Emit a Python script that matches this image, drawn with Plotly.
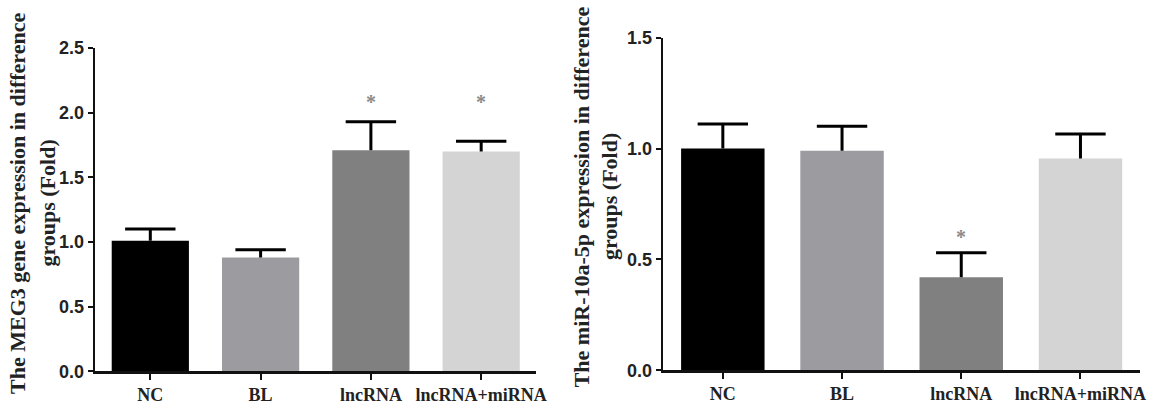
import plotly.graph_objects as go

categories = ["NC", "BL", "lncRNA", "lncRNA+miRNA"]

meg3_values = [1.01, 0.88, 1.71, 1.70]
meg3_errors = [0.09, 0.06, 0.22, 0.08]
meg3_stars = ["", "", "*", "*"]
meg3_star_y = [None, None, 2.08, 2.08]
meg3_ticks = [0.0, 0.5, 1.0, 1.5, 2.0, 2.5]

mir_values = [1.00, 0.99, 0.42, 0.955]
mir_errors = [0.11, 0.11, 0.11, 0.11]
mir_stars = ["", "", "*", ""]
mir_star_y = [None, None, 0.60, None]
mir_ticks = [0.0, 0.5, 1.0, 1.5]

bar_colors = ["#000000", "#9c9ca0", "#808080", "#d4d4d4"]

W, H = 1158, 407

fig = go.Figure()

def add_panel(values, errors, xa, ya):
    fig.add_trace(go.Bar(
        x=categories, y=values,
        marker=dict(color=bar_colors, line=dict(width=0)),
        width=0.7,
        xaxis=xa, yaxis=ya, showlegend=False, hoverinfo="skip",
    ))
    tops = [v + e for v, e in zip(values, errors)]
    fig.add_trace(go.Scatter(
        x=categories, y=tops, mode="markers",
        marker=dict(symbol="line-ew", size=36, color="#000000",
                    line=dict(color="#000000", width=3)),
        error_y=dict(type="data", symmetric=False, array=[0] * len(errors),
                     arrayminus=errors, color="#000000", thickness=3, width=0),
        xaxis=xa, yaxis=ya, showlegend=False, hoverinfo="skip",
    ))

add_panel(meg3_values, meg3_errors, "x", "y")
add_panel(mir_values, mir_errors, "x2", "y2")

tickfont_y = dict(family="Liberation Sans", size=18, color="#222222", weight="bold")
tickfont_x = dict(family="Liberation Serif", size=18, color="#222222", weight="bold")

def xaxis_cfg(domain, anchor):
    return dict(domain=domain, anchor=anchor, range=[-0.5, 3.5],
                showline=True, linecolor="#111111", linewidth=2.5,
                ticks="outside", ticklen=6, tickwidth=2, tickcolor="#111111",
                tickfont=tickfont_x, showgrid=False, zeroline=False, fixedrange=True)

def yaxis_cfg(domain, anchor, rng, ticks):
    return dict(domain=domain, anchor=anchor, range=rng,
                tickvals=ticks, ticktext=[f"{t:.1f}" for t in ticks],
                showline=True, linecolor="#111111", linewidth=2.5,
                ticks="outside", ticklen=5, tickwidth=2, tickcolor="#111111",
                tickfont=tickfont_y, showgrid=False, zeroline=False, fixedrange=True)

fig.update_layout(
    width=W, height=H, autosize=False,
    margin=dict(l=0, r=0, t=0, b=0),
    paper_bgcolor="white", plot_bgcolor="white",
    bargap=0.3,
    xaxis=xaxis_cfg([96 / W, 541 / W], "y"),
    yaxis=yaxis_cfg([(H - 380) / H, (H - 40) / H], "x", [0, 2.5], meg3_ticks),
    xaxis2=xaxis_cfg([669 / W, 1150 / W], "y2"),
    yaxis2=yaxis_cfg([(H - 379) / H, (H - 29) / H], "x2", [0, 1.5], mir_ticks),
)

star_font = dict(family="Liberation Serif", size=20, color="#8a8a8a", weight="bold")
for cat, sy, s in zip(categories, meg3_star_y, meg3_stars):
    if s:
        fig.add_annotation(x=cat, y=sy, text=s, showarrow=False, xref="x", yref="y",
                           yanchor="middle", font=star_font)
for cat, sy, s in zip(categories, mir_star_y, mir_stars):
    if s:
        fig.add_annotation(x=cat, y=sy, text=s, showarrow=False, xref="x2", yref="y2",
                           yanchor="middle", font=star_font)

title_font = dict(family="Liberation Serif", size=22, color="#222222", weight="bold")
titles = [
    ("The MEG3 gene expression in difference", 17 / W, 203),
    ("groups (Fold)", 47 / W, 203),
    ("The miR-10a-5p expression in difference", 586 / W, 196),
    ("groups (Fold)", 615 / W, 196),
]
for text, xp, yc in titles:
    fig.add_annotation(x=xp, y=(H - yc) / H, xref="paper", yref="paper", text=text,
                       textangle=-90, showarrow=False, xanchor="center", yanchor="middle",
                       font=title_font)

fig.write_html(
    "out.html",
    config={"responsive": False, "displayModeBar": False, "staticPlot": True},
    default_width=f"{W}px", default_height=f"{H}px",
    post_script="document.body.style.margin='0';document.body.style.overflow='hidden';",
)
